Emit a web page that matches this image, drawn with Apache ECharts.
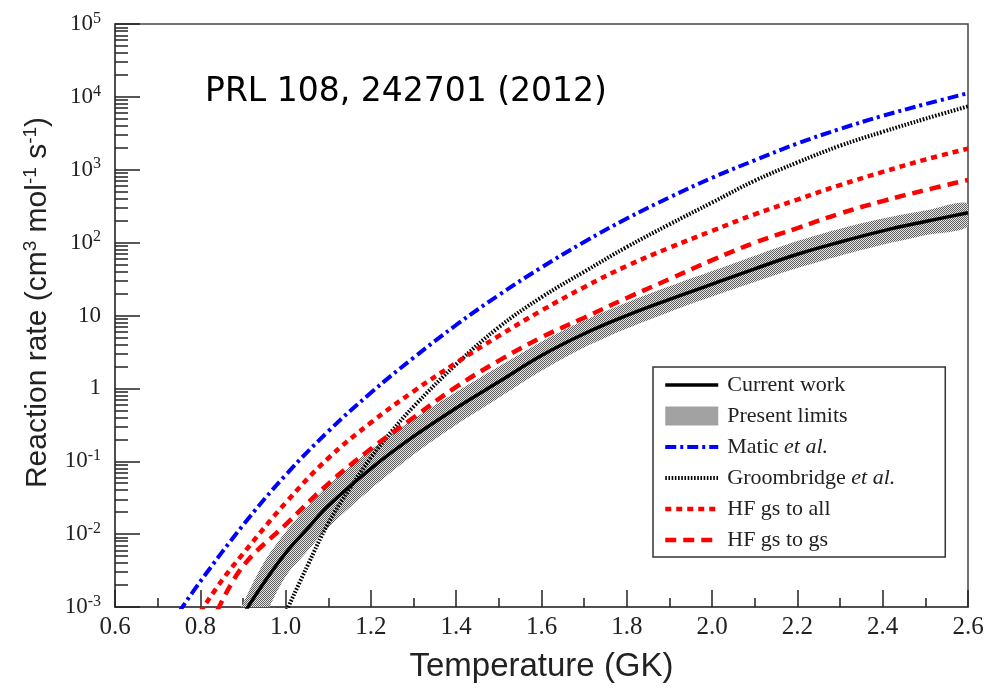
<!DOCTYPE html>
<html>
<head>
<meta charset="utf-8">
<script src="https://cdn.jsdelivr.net/npm/echarts@6/dist/echarts.min.js"></script>
<style>
  html, body { margin: 0; padding: 0; background: #ffffff; }
  #chart { width: 987px; height: 689px; }
</style>
</head>
<body>
<div id="chart"></div>
<script>
// Reaction rates (cm^3 mol^-1 s^-1) versus temperature (GK)

const currentT    = [0.90, 0.95, 1.00, 1.05, 1.10, 1.20, 1.30, 1.40, 1.50, 1.60, 1.70, 1.80, 1.90, 2.00, 2.10, 2.20, 2.30, 2.40, 2.50, 2.60];
const currentRate = [7.8e-4, 2.19e-3, 5.5e-3, 0.0117, 0.0245, 0.0794, 0.219, 0.537, 1.23, 2.82, 5.62, 10.0, 16.6, 26.9, 43.7, 69.2, 102, 145, 195, 257];

// Present limits: upper and lower bounds of the rate
const limitsT     = [0.88, 0.90, 0.95, 1.00, 1.05, 1.10, 1.20, 1.30, 1.40, 1.50, 1.60, 1.70, 1.80, 1.90, 2.00, 2.10, 2.20, 2.30, 2.40, 2.50, 2.60];
const limitsUpper = [6.3e-4, 1.12e-3, 4.17e-3, 0.0107, 0.0234, 0.0468, 0.145, 0.380, 0.891, 2.00, 4.37, 8.51, 15.1, 25.1, 40.7, 66.1, 105, 155, 214, 275, 347];
const limitsLower = [1.0e-4, 1.6e-4, 7.1e-4, 2.63e-3, 5.75e-3, 0.0123, 0.0417, 0.123, 0.316, 0.741, 1.74, 3.63, 6.61, 11.2, 18.2, 28.8, 44.7, 66.1, 93.3, 126, 166];

const maticT    = [0.75, 0.80, 0.90, 1.00, 1.10, 1.20, 1.30, 1.40, 1.50, 1.60, 1.70, 1.80, 1.90, 2.00, 2.10, 2.20, 2.30, 2.40, 2.50, 2.60];
const maticRate = [8.5e-4, 2.24e-3, 0.0132, 0.0646, 0.257, 0.871, 2.63, 7.41, 19.1, 45.7, 102, 214, 417, 776, 1349, 2291, 3631, 5495, 7943, 11220];

const groomT    = [1.00, 1.05, 1.10, 1.15, 1.20, 1.25, 1.30, 1.40, 1.50, 1.60, 1.70, 1.80, 1.90, 2.00, 2.10, 2.20, 2.30, 2.40, 2.50, 2.60];
const groomRate = [8.3e-4, 3.55e-3, 0.0141, 0.0417, 0.112, 0.263, 0.562, 2.14, 6.92, 17.8, 39.8, 87.1, 178, 355, 708, 1259, 2138, 3311, 5012, 7413];

const hfAllT    = [0.80, 0.85, 0.90, 1.00, 1.10, 1.20, 1.30, 1.40, 1.50, 1.60, 1.70, 1.80, 1.90, 2.00, 2.10, 2.20, 2.30, 2.40, 2.50, 2.60];
const hfAllRate = [8.5e-4, 2.29e-3, 5.37e-3, 0.0269, 0.110, 0.339, 0.912, 2.24, 5.25, 11.7, 24.5, 47.9, 85.1, 145, 245, 389, 617, 933, 1380, 1950];

const hfGsT     = [0.84, 0.90, 1.00, 1.10, 1.20, 1.30, 1.40, 1.50, 1.60, 1.70, 1.80, 1.90, 2.00, 2.10, 2.20, 2.30, 2.40, 2.50, 2.60];
const hfGsRate  = [8.9e-4, 3.63e-3, 0.0135, 0.049, 0.148, 0.398, 1.05, 2.40, 5.01, 9.33, 17.4, 31.6, 57.5, 100, 158, 251, 372, 525, 724];

// Axis ticks and labels
const xTickLabels = ['0.6', '0.8', '1.0', '1.2', '1.4', '1.6', '1.8', '2.0', '2.2', '2.4', '2.6'];
const yTickValues = [1e-3, 1e-2, 1e-1, 1, 10, 1e2, 1e3, 1e4, 1e5];
const yTickLabels = ['10{sup|-3}', '10{sup|-2}', '10{sup|-1}', '1', '10', '10{sup|2}', '10{sup|3}', '10{sup|4}', '10{sup|5}'];

// minor log ticks at 2..9 within every decade
const yMinorTicks = [];
for (let e = -3; e < 5; e++) {
  for (let m = 2; m <= 9; m++) yMinorTicks.push(m * Math.pow(10, e));
}

const pair = (xs, ys) => xs.map((x, i) => [x, ys[i]]);

// fine checkered stipple used for the limits band
function stipple() {
  const c = document.createElement('canvas');
  c.width = 2; c.height = 2;
  const g = c.getContext('2d');
  g.fillStyle = '#e6e6e6'; g.fillRect(0, 0, 2, 2);
  g.fillStyle = '#5e5e5e'; g.fillRect(0, 0, 1, 1); g.fillRect(1, 1, 1, 1);
  return { image: c, repeat: 'repeat' };
}
const bandFill = stipple();

const serif = '"Liberation Serif", "Times New Roman", serif';
const sans = '"Liberation Sans", Arial, sans-serif';
const ink = '#222222';

const chart = echarts.init(document.getElementById('chart'), null, { renderer: 'canvas' });

chart.setOption({
  animation: false,
  backgroundColor: '#ffffff',
  grid: {
    left: 115, right: 19, top: 24, bottom: 82,
    show: true, borderColor: '#444444', borderWidth: 1.5, backgroundColor: 'transparent'
  },
  graphic: [{
    type: 'text', left: 205, top: 76, z: 10,
    style: { text: 'PRL 108, 242701 (2012)', fill: '#000000', font: '33px "DejaVu Sans", sans-serif' }
  }],
  legend: {
    orient: 'vertical',
    left: 653, top: 367,
    padding: [7, 50, 6, 10],
    itemWidth: 53, itemHeight: 19, itemGap: 9,
    borderColor: '#333333', borderWidth: 1.5, backgroundColor: '#ffffff',
    lineStyle: { width: 'inherit' },
    itemStyle: { opacity: 0 },
    data: [
      { name: 'Current work' },
      { name: 'Present limits', icon: 'rect', itemStyle: { color: bandFill, opacity: 1 } },
      { name: 'Matic et al.' },
      { name: 'Groombridge et al.' },
      { name: 'HF gs to all' },
      { name: 'HF gs to gs' }
    ],
    formatter: name => name.replace(' et al.', ' {it|et al.}'),
    textStyle: {
      fontFamily: serif, fontSize: 22, color: ink, lineHeight: 22, padding: [0, 0, 0, 4],
      rich: { it: { fontFamily: serif, fontSize: 22, fontStyle: 'italic', color: ink } }
    }
  },
  xAxis: {
    type: 'value', min: 0.6, max: 2.6, interval: 0.2,
    name: 'Temperature (GK)', nameLocation: 'middle', nameGap: 43,
    nameTextStyle: { fontFamily: sans, fontSize: 33, color: ink },
    axisLine: { lineStyle: { color: '#444444', width: 1.5 } },
    axisTick: { inside: true, length: 17, lineStyle: { color: ink, width: 1.5 } },
    minorTick: { show: true, splitNumber: 2, length: 9, lineStyle: { color: ink, width: 1.5 } },
    splitLine: { show: false },
    axisLabel: {
      margin: 8, fontFamily: serif, fontSize: 25, color: ink,
      formatter: v => xTickLabels[Math.round((v - 0.6) / 0.2)]
    }
  },
  yAxis: [{
    type: 'log', logBase: 10, min: 1e-3, max: 1e5, splitNumber: 8,
    name: 'Reaction rate (cm{sup|3} mol{sup|-1} s{sup|-1})',
    nameLocation: 'middle', nameGap: 61, nameRotate: 90,
    nameTextStyle: {
      fontFamily: sans, fontSize: 30, color: ink, padding: [0, 0, 0, 26],
      rich: { sup: { fontFamily: sans, fontSize: 19, color: ink, padding: [0, 0, 14, 0] } }
    },
    axisLine: { lineStyle: { color: '#444444', width: 1.5 } },
    axisTick: { inside: true, length: 25, customValues: yTickValues, lineStyle: { color: ink, width: 1.5 } },
    splitLine: { show: false },
    axisLabel: {
      margin: 14, fontFamily: serif, fontSize: 23, color: ink,
      customValues: yTickValues,
      formatter: v => {
        const i = yTickValues.findIndex(t => Math.abs(Math.log10(t) - Math.log10(v)) < 1e-6);
        return i >= 0 ? yTickLabels[i] : '';
      },
      rich: { sup: { fontFamily: serif, fontSize: 16, color: ink, padding: [0, 0, 11, 0] } }
    }
  }, {
    type: 'log', logBase: 10, min: 1e-3, max: 1e5, position: 'left',
    axisLine: { show: false },
    axisLabel: { show: false },
    splitLine: { show: false },
    axisTick: { show: true, inside: true, length: 13, customValues: yMinorTicks, lineStyle: { color: ink, width: 1.5 } }
  }],
  series: [
    {
      name: 'Current work', type: 'line', data: pair(currentT, currentRate),
      symbol: 'none', smooth: 0.4, z: 5,
      lineStyle: { color: '#000000', width: 3.5 }, itemStyle: { color: '#000000' }
    },
    {
      name: 'Present limits', type: 'custom', coordinateSystem: 'cartesian2d', clip: true, z: 1,
      data: limitsT.map((t, i) => [t, limitsLower[i], limitsUpper[i]]),
      encode: { x: 0, y: [1, 2] },
      itemStyle: { color: bandFill },
      renderItem: (params, api) => {
        if (params.dataIndex !== 0) return null;
        const pts = [];
        for (let i = 0; i < limitsT.length; i++) pts.push(api.coord([limitsT[i], limitsUpper[i]]));
        for (let i = limitsT.length - 1; i >= 0; i--) pts.push(api.coord([limitsT[i], limitsLower[i]]));
        return { type: 'polygon', shape: { points: pts, smooth: 0.3 }, style: { fill: bandFill, stroke: null } };
      }
    },
    {
      name: 'Matic et al.', type: 'line', data: pair(maticT, maticRate),
      symbol: 'none', smooth: 0.4, z: 3,
      lineStyle: { color: '#0000ff', width: 4, type: [11, 4, 3, 4] }, itemStyle: { color: '#0000ff' }
    },
    {
      name: 'Groombridge et al.', type: 'line', data: pair(groomT, groomRate),
      symbol: 'none', smooth: 0.4, z: 3,
      lineStyle: { color: '#000000', width: 4, type: [1.6, 1.6] }, itemStyle: { color: '#000000' }
    },
    {
      name: 'HF gs to all', type: 'line', data: pair(hfAllT, hfAllRate),
      symbol: 'none', smooth: 0.4, z: 3,
      lineStyle: { color: '#ff0000', width: 4.5, type: [6, 5] }, itemStyle: { color: '#ff0000' }
    },
    {
      name: 'HF gs to gs', type: 'line', data: pair(hfGsT, hfGsRate),
      symbol: 'none', smooth: 0.4, z: 3,
      lineStyle: { color: '#ff0000', width: 4.5, type: [11, 7] }, itemStyle: { color: '#ff0000' }
    }
  ]
});
</script>
</body>
</html>
